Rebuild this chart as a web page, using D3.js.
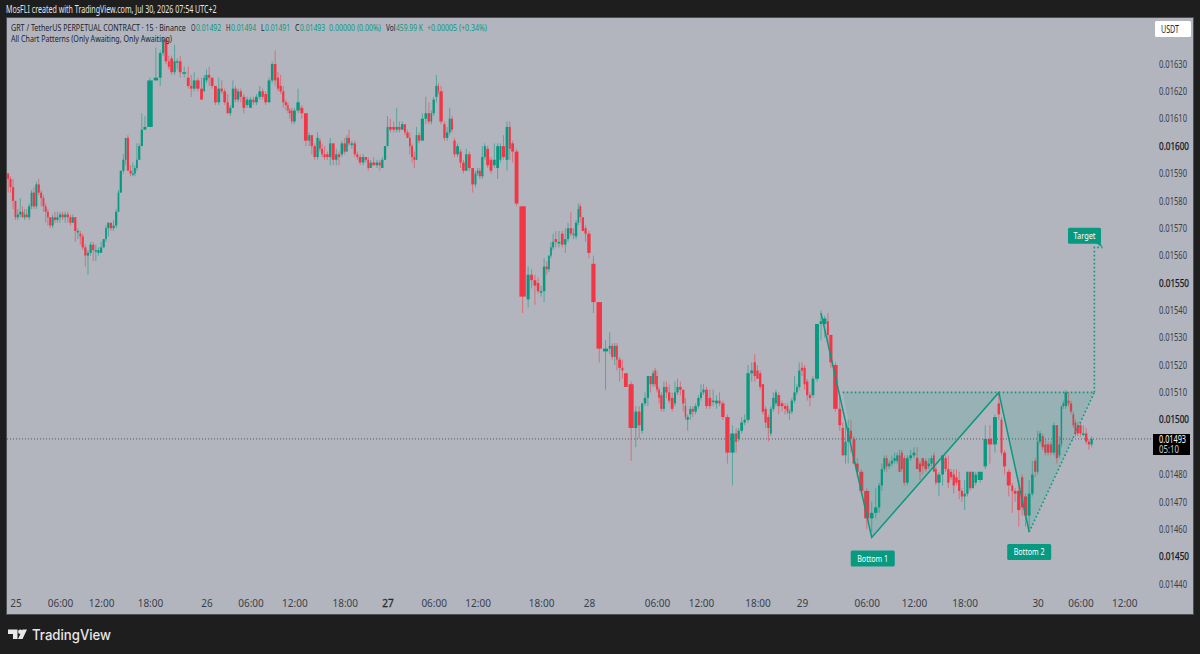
<!DOCTYPE html>
<html>
<head>
<meta charset="utf-8">
<script src="https://cdnjs.cloudflare.com/ajax/libs/d3/7.8.5/d3.min.js"></script>
<style>
  html, body { margin: 0; padding: 0; background: #1e1e1e; }
  svg { display: block; }
  text { font-family: "Liberation Sans Narrow", "Noto Sans", sans-serif; }
</style>
</head>
<body>
<div id="chart"></div>
<script>
/* GRT / USDT 15 min volume candles, prices in 0.00001 USDT */
var opens = [
  1590,1588,1585,1580,1574,1575,1576,1574,1575,1574,
  1578,1583,1578,1586,1583,1581,1578,1576,1574,1571,
  1574,1573,1574,1575,1574,1575,1574,1572,1574,1569,
  1568,1567,1563,1560,1561,1564,1562,1561,1561,1563,
  1566,1570,1572,1570,1571,1576,1583,1591,1595,1603,
  1591,1590,1590,1592,1595,1600,1606,1607,1624,1625,
  1634,1639,1631,1632,1627,1631,1631,1627,1625,1622,
  1621,1624,1621,1620,1624,1626,1625,1622,1616,1621,
  1620,1616,1612,1614,1621,1617,1620,1618,1615,1614,
  1617,1616,1618,1620,1619,1616,1624,1630,1625,1622,
  1620,1616,1615,1613,1613,1609,1613,1614,1612,1602,
  1604,1600,1596,1602,1599,1597,1597,1596,1601,1595,
  1597,1597,1601,1598,1603,1601,1601,1597,1596,1594,
  1596,1595,1592,1594,1593,1594,1592,1595,1600,1607,
  1607,1606,1607,1606,1608,1605,1603,1600,1596,1595,
  1604,1602,1610,1612,1609,1612,1618,1622,1620,1608,
  1603,1605,1610,1602,1597,1598,1594,1591,1597,1592,
  1586,1590,1591,1589,1596,1599,1595,1593,1592,1595,
  1600,1595,1607,1601,1598,1578,1544,1553,1551,1550,
  1547,1547,1556,1555,1560,1563,1566,1565,1568,1564,
  1566,1570,1568,1567,1572,1578,1574,1570,1568,1557,
  1543,1525,1526,1527,1523,1527,1522,1519,1517,1513,
  1497,1503,1496,1506,1508,1516,1513,1518,1516,1511,
  1509,1504,1512,1510,1508,1506,1510,1512,1511,1505,
  1500,1502,1504,1503,1505,1508,1510,1511,1508,1507,
  1506,1507,1506,1501,1488,1495,1493,1496,1499,1500,
  1517,1521,1518,1517,1513,1504,1501,1495,1504,1506,
  1509,1506,1505,1505,1503,1503,1507,1510,1512,1519,
  1519,1514,1509,1509,1515,1535,1535,1536,1531,1520,
  1504,1497,1487,1492,1496,1493,1484,1481,1474,1464,
  1466,1468,1476,1482,1486,1483,1484,1485,1485,1487,
  1488,1486,1477,1486,1487,1486,1484,1486,1485,1483,
  1484,1487,1482,1477,1480,1486,1482,1481,1480,1479,
  1478,1474,1472,1473,1481,1475,1477,1478,1483,1493,
  1491,1506,1500,1488,1481,1476,1474,1474,1479,1472,
  1465,1473,1485,1481,1492,1494,1491,1491,1491,1488,
  1498,1487,1491,1505,1505,1507,1506,1502,1499,1498,
  1498,1495,1495,1492,1491
];
var closes = [
  1588,1585,1580,1574,1575,1576,1574,1575,1574,1578,
  1583,1578,1586,1583,1581,1578,1576,1574,1571,1574,
  1573,1574,1575,1574,1575,1574,1572,1574,1569,1569,
  1567,1563,1560,1561,1564,1562,1562,1562,1563,1566,
  1570,1572,1570,1571,1576,1583,1591,1595,1603,1591,
  1590,1590,1592,1595,1600,1606,1607,1624,1625,1634,
  1639,1631,1629,1627,1631,1631,1627,1627,1622,1621,
  1624,1621,1617,1625,1626,1625,1622,1616,1621,1620,
  1616,1612,1614,1621,1617,1620,1618,1614,1617,1617,
  1616,1618,1620,1618,1616,1624,1630,1624,1621,1620,
  1616,1615,1613,1612,1609,1613,1616,1612,1602,1604,
  1600,1596,1603,1599,1597,1596,1596,1601,1595,1597,
  1596,1601,1598,1603,1601,1601,1597,1596,1594,1596,
  1595,1592,1594,1593,1594,1593,1595,1600,1607,1606,
  1606,1607,1606,1608,1605,1603,1600,1596,1595,1604,
  1602,1610,1612,1609,1612,1617,1622,1620,1609,1603,
  1605,1610,1606,1597,1600,1594,1591,1597,1592,1586,
  1590,1591,1589,1596,1600,1593,1591,1595,1600,1600,
  1596,1607,1599,1598,1579,1545,1553,1551,1549,1547,
  1547,1556,1555,1560,1563,1565,1565,1565,1564,1566,
  1570,1568,1568,1572,1577,1574,1569,1568,1561,1543,
  1526,1526,1527,1523,1527,1522,1519,1518,1512,1497,
  1503,1498,1506,1508,1516,1513,1517,1513,1511,1508,
  1504,1512,1510,1507,1504,1510,1512,1511,1506,1501,
  1501,1504,1503,1505,1508,1510,1511,1505,1505,1507,
  1507,1506,1501,1488,1495,1492,1496,1499,1500,1517,
  1518,1516,1515,1512,1503,1499,1497,1504,1508,1510,
  1505,1505,1504,1503,1503,1507,1510,1512,1518,1518,
  1513,1509,1508,1515,1535,1536,1537,1531,1521,1504,
  1498,1487,1492,1497,1493,1484,1481,1474,1464,1466,
  1468,1476,1482,1486,1483,1484,1485,1486,1487,1481,
  1482,1477,1486,1487,1488,1482,1481,1483,1482,1484,
  1486,1481,1477,1480,1487,1482,1477,1479,1476,1477,
  1474,1472,1473,1481,1475,1481,1480,1481,1493,1491,
  1501,1502,1488,1483,1476,1474,1473,1467,1468,1465,
  1473,1480,1481,1492,1495,1490,1488,1488,1488,1498,
  1486,1491,1505,1506,1510,1506,1503,1498,1495,1495,
  1495,1495,1492,1491,1493
];
var highs = [
  1590,1589,1588,1580,1577,1581,1578,1577,1577,1579,
  1584,1585,1587,1588,1584,1582,1579,1577,1574,1575,
  1576,1576,1576,1576,1576,1576,1575,1575,1574,1570,
  1569,1568,1564,1562,1565,1565,1564,1563,1565,1566,
  1571,1572,1572,1573,1577,1584,1591,1597,1603,1604,
  1593,1594,1593,1601,1601,1612,1611,1625,1636,1635,
  1639,1640,1633,1633,1637,1632,1633,1629,1629,1626,
  1627,1625,1625,1626,1628,1629,1625,1622,1625,1624,
  1621,1619,1615,1624,1622,1621,1621,1619,1618,1618,
  1618,1619,1622,1621,1620,1625,1631,1635,1627,1626,
  1622,1617,1616,1614,1614,1614,1621,1615,1612,1605,
  1604,1601,1605,1603,1601,1600,1598,1603,1601,1599,
  1598,1602,1603,1604,1606,1602,1602,1598,1597,1597,
  1596,1596,1595,1596,1595,1595,1596,1600,1611,1610,
  1609,1614,1609,1609,1608,1606,1605,1601,1598,1607,
  1605,1612,1618,1616,1613,1618,1626,1623,1622,1609,
  1607,1614,1611,1603,1601,1599,1595,1599,1598,1592,
  1591,1592,1592,1600,1601,1600,1596,1601,1601,1601,
  1604,1609,1609,1602,1599,1578,1556,1555,1553,1552,
  1549,1559,1558,1560,1565,1568,1569,1569,1569,1570,
  1572,1576,1570,1573,1579,1579,1574,1571,1569,1560,
  1543,1529,1532,1528,1528,1528,1523,1522,1517,1514,
  1505,1505,1506,1510,1516,1516,1518,1519,1518,1512,
  1510,1514,1514,1513,1510,1514,1515,1514,1511,1508,
  1502,1505,1505,1506,1509,1513,1513,1512,1511,1511,
  1509,1510,1507,1502,1498,1497,1497,1501,1502,1520,
  1521,1524,1520,1518,1513,1505,1502,1505,1510,1511,
  1510,1507,1506,1506,1504,1508,1516,1513,1521,1521,
  1520,1515,1510,1516,1535,1540,1538,1539,1531,1521,
  1509,1499,1499,1500,1500,1494,1486,1482,1475,1470,
  1475,1477,1484,1487,1487,1485,1487,1488,1488,1489,
  1489,1487,1487,1489,1490,1490,1485,1486,1486,1486,
  1487,1488,1483,1481,1487,1487,1487,1482,1482,1482,
  1481,1475,1478,1481,1481,1481,1481,1481,1498,1498,
  1502,1510,1501,1489,1482,1477,1475,1478,1480,1473,
  1478,1485,1486,1496,1496,1495,1493,1492,1492,1499,
  1498,1494,1505,1507,1511,1510,1507,1503,1500,1499,
  1499,1498,1497,1493,1494
];
var lows = [
  1583,1583,1577,1573,1573,1574,1574,1573,1574,1573,
  1577,1577,1577,1582,1578,1576,1572,1571,1570,1570,
  1572,1572,1572,1573,1572,1572,1571,1572,1565,1566,
  1564,1562,1556,1553,1560,1558,1558,1560,1561,1563,
  1565,1567,1569,1569,1570,1576,1583,1590,1593,1591,
  1589,1589,1589,1591,1595,1600,1606,1607,1624,1622,
  1633,1630,1628,1626,1626,1628,1625,1625,1621,1618,
  1620,1620,1617,1620,1623,1622,1621,1615,1615,1619,
  1615,1612,1611,1614,1616,1616,1616,1612,1614,1614,
  1615,1615,1617,1617,1615,1616,1623,1622,1620,1619,
  1614,1613,1612,1610,1608,1608,1612,1610,1600,1600,
  1597,1595,1595,1598,1596,1595,1595,1593,1593,1593,
  1593,1596,1597,1598,1600,1599,1596,1595,1593,1593,
  1594,1591,1592,1593,1592,1591,1592,1595,1600,1605,
  1605,1605,1605,1606,1604,1603,1597,1594,1592,1595,
  1601,1602,1608,1608,1608,1611,1616,1619,1608,1602,
  1602,1604,1605,1596,1596,1592,1590,1591,1591,1583,
  1585,1589,1588,1588,1595,1592,1590,1592,1588,1594,
  1595,1591,1595,1594,1578,1539,1541,1548,1542,1546,
  1545,1543,1553,1554,1559,1562,1563,1563,1563,1561,
  1565,1567,1566,1566,1571,1572,1569,1565,1559,1539,
  1521,1511,1524,1522,1520,1518,1514,1515,1512,1485,
  1490,1493,1495,1505,1505,1510,1512,1512,1510,1506,
  1503,1503,1508,1506,1503,1505,1509,1509,1503,1500,
  1496,1500,1501,1502,1504,1507,1509,1504,1504,1505,
  1504,1505,1500,1484,1476,1488,1492,1495,1498,1499,
  1514,1514,1515,1511,1502,1497,1492,1494,1503,1505,
  1502,1503,1502,1502,1500,1502,1506,1509,1511,1516,
  1511,1507,1505,1508,1514,1529,1530,1528,1519,1503,
  1496,1487,1484,1484,1488,1484,1479,1473,1460,1459,
  1464,1466,1474,1481,1481,1482,1483,1484,1484,1481,
  1481,1476,1476,1485,1486,1482,1478,1480,1481,1482,
  1483,1481,1476,1472,1476,1481,1475,1478,1473,1476,
  1471,1470,1467,1472,1474,1475,1476,1477,1482,1484,
  1488,1500,1487,1480,1472,1466,1470,1461,1465,1461,
  1460,1472,1479,1480,1491,1489,1487,1487,1487,1487,
  1484,1486,1490,1504,1504,1505,1502,1497,1494,1494,
  1494,1494,1491,1489,1490
];
var volumes = [
  2.3,2.4,2.6,2.2,2.5,2.3,2.2,2,2.2,2.6,
  2.2,2.5,2.3,2.5,2.3,2.2,2.2,2.2,2.3,2.5,
  2.3,2.5,2.6,2.6,2.6,2.6,2.6,2.2,2.6,2.6,
  2.2,2.6,2.6,2.6,2.6,2.6,2.6,2.6,2.6,2.6,
  2,2.6,2.6,2.6,2.6,2,2.6,2.5,2,2.6,
  2.6,2,2,2,2.6,2.6,3.5,6.5,5.3,3.3,
  2.4,3.3,2.3,3.3,2.6,2.6,3.3,4.7,3.3,2.6,
  3.3,4,3.3,2,2.6,2.6,3.3,3.3,3.3,2.6,
  3.3,2.6,2.6,2.6,2.6,2.6,2.7,3.3,3.3,3.3,
  2.6,3.3,3.3,2.6,3.3,3.3,3,3,2.6,2.6,
  2.6,2.6,1.5,2,2,3.3,4,3.5,4.5,2.3,
  2.7,3,2.7,2,2.3,2.6,3,2.7,3.3,2.7,
  2.7,3,2.7,1.7,2.3,3.3,2.7,2.3,3.3,2.7,
  2.7,2,2.7,3.3,3.3,2.3,2.7,2.7,2.3,3.3,
  3.3,2.7,2.7,3,2.3,2.7,2,2.3,2.3,2,
  3,3.7,3,3.3,1.7,2.7,2.7,1.3,4,2.7,
  2.7,2.3,2.3,2.7,3.3,2.7,3,2.7,3.3,3.3,
  2.3,2,2.3,2.7,2.3,3.3,3.3,3.3,3.3,2.3,
  3.7,3.3,2.3,3.3,4.5,7.5,3.5,3.3,3.3,3,
  3,3,2.3,2,2,2.3,3,3.3,3.3,2.7,
  2.7,3,2.3,2.7,1.7,2.3,2.7,2.7,4,5,
  6.5,6,2.3,2.7,2.3,2,3.3,2.3,4.5,6,
  3.3,3.3,2.7,3,2.7,2.7,2.3,1.7,2,2,
  2.7,2.3,2.7,2.7,3.3,2.3,2.7,3,2.7,1.7,
  2.7,2.7,2.3,3,2.7,2.3,2.7,3.3,3.3,3.3,
  3.3,2.7,4,5,5,2.3,2.7,3.3,2.7,4,
  3.3,2.7,2.7,2.7,2.7,2.7,2.7,2.3,2.7,2.3,
  3.3,3.3,2.7,2,2,2.7,2.7,2,2.7,2.7,
  2.5,2.7,2.7,3.3,4.7,3.3,4,2.3,3.7,5.3,
  3.3,2.7,2.7,2.7,2.7,3.3,3.3,4.7,6,4,
  4,2.7,2.7,2.3,2.3,2.7,2.7,2.7,2.3,2.3,
  2.3,2.7,3.3,3.3,3.3,3,2.7,2.7,3.3,2.7,
  2.7,2,2,4,3.3,2.7,2.7,2.7,2.7,2.7,
  2.7,2.7,2.7,2.7,2.7,2.7,3,6,4,5.3,
  4.7,3,2.3,3.7,4.7,2.3,3.3,4,2.7,4,
  3.3,3,2.7,2,2.7,2.7,2.7,2.7,2.7,3.3,
  2.7,2.3,1.7,2,3,2.3,2.7,2,2,2.7,
  2.7,3,2.7,2.7,2.7
];

var priceTicks = [1630,1620,1610,1600,1590,1580,1570,1560,1550,1540,1530,1520,1510,1500,1480,1470,1460,1450,1440];
var tickBars = [3,22,38,57,74,89,105,122,138,155,171,190,208,228,245,262,279,298,314,332,353,370,386];
var tickLabels = ["25","06:00","12:00","18:00","26","06:00","12:00","18:00","27","06:00","12:00","18:00","28","06:00","12:00","18:00","29","06:00","12:00","18:00","30","06:00","12:00"];
var lastPrice = 1493;

// double bottom drawing: [bar, price]
var patternBars = [285,299,341,350];
var patternPrices = [1539,1457,1510,1459];
var neckBars = [291,375];
var neckPrice = 1510;
var targetBars = [375,378];
var targetPrices = [1563,1563];

var legendItems = [
  {x: 11, w: 175, t: "GRT / TetherUS PERPETUAL CONTRACT · 15 · Binance", c: "#20232c"},
  {x: 191, w: 4.5, t: "O", c: "#20232c"}, {x: 196, w: 25, t: "0.01492", c: "#089981"},
  {x: 226, w: 4.5, t: "H", c: "#20232c"}, {x: 231, w: 25, t: "0.01494", c: "#089981"},
  {x: 261, w: 3.5, t: "L", c: "#20232c"}, {x: 265, w: 25, t: "0.01491", c: "#089981"},
  {x: 295, w: 4.5, t: "C", c: "#20232c"}, {x: 300, w: 25, t: "0.01493", c: "#089981"},
  {x: 329, w: 52, t: "0.00000 (0.00%)", c: "#089981"},
  {x: 386, w: 9.5, t: "Vol", c: "#20232c"}, {x: 396, w: 27, t: "459.99 K", c: "#089981"},
  {x: 427, w: 60, t: "+0.00005 (+0.34%)", c: "#089981"}
];

var width = 1200, height = 654;
var up = "#089981", down = "#f23645", teal = "#089981", ink = "#20232c";

var svg = d3.select("#chart").append("svg")
    .attr("width", width)
    .attr("height", height);

// frame
svg.append("rect").attr("width", width).attr("height", height).attr("fill", "#1e1e1e");
svg.append("rect")
    .attr("x", 6.5).attr("y", 17.5).attr("width", 1187).attr("height", 597)
    .attr("fill", "#b2b5be").attr("stroke", "#4d4f55");

/* volume candles: width of each bar follows its volume */
var cum = d3.cumsum(volumes);
var total = cum[cum.length - 1];
var xVol = d3.scaleLinear().domain([0, total]).range([7, 1093]);
var centers = cum.map(function(c, i) { return xVol(c - volumes[i] / 2); });
var x = d3.scaleLinear().domain(d3.range(centers.length)).range(centers);
var y = d3.scaleLinear().domain([1440, 1630]).range([584, 64]);
var barW = function(i) { return xVol(volumes[i]) - xVol(0); };

// last price line
svg.append("line")
    .attr("x1", 7).attr("x2", 1153)
    .attr("y1", y(lastPrice)).attr("y2", y(lastPrice))
    .attr("stroke", "#33363f").attr("stroke-opacity", 0.75).attr("stroke-dasharray", "1 2");

// candles
var candle = svg.append("g").selectAll("g")
    .data(d3.range(opens.length))
    .enter().append("g");

candle.append("line")
    .attr("x1", function(i) { return x(i); })
    .attr("x2", function(i) { return x(i); })
    .attr("y1", function(i) { return y(highs[i]); })
    .attr("y2", function(i) { return y(lows[i]); })
    .attr("stroke", function(i) { return closes[i] >= opens[i] ? up : down; })
    .attr("stroke-opacity", 0.55)
    .attr("stroke-width", 1);

candle.append("rect")
    .attr("x", function(i) { return x(i) - barW(i) * 0.42; })
    .attr("width", function(i) { return barW(i) * 0.84; })
    .attr("y", function(i) { return y(Math.max(opens[i], closes[i])); })
    .attr("height", function(i) { return Math.max(1.5, Math.abs(y(opens[i]) - y(closes[i]))); })
    .attr("fill", function(i) { return closes[i] >= opens[i] ? up : down; });

// pattern fill and lines
var pts = patternBars.map(function(b, i) { return [x(b), y(patternPrices[i])]; });
var neckL = [x(neckBars[0]), y(neckPrice)];
var neckR = [x(neckBars[1]), y(neckPrice)];
var line = d3.line();

svg.append("path")
    .attr("d", line([neckL, pts[1], pts[2], pts[3], neckR]) + "Z")
    .attr("fill", teal).attr("fill-opacity", 0.15);

svg.append("path")
    .attr("d", line(pts))
    .attr("fill", "none").attr("stroke", teal).attr("stroke-width", 1.5);

var dotted = [
  [neckL, neckR],
  [pts[3], neckR],
  [neckR, [x(targetBars[0]), y(targetPrices[0])], [x(targetBars[1]), y(targetPrices[1])]]
];
svg.selectAll(".dotted").data(dotted).enter().append("path")
    .attr("class", "dotted")
    .attr("d", line)
    .attr("fill", "none").attr("stroke", teal).attr("stroke-width", 1.6)
    .attr("stroke-dasharray", "1.6 2.4");

// squeeze a text to the width it has in the picture
function fit(sel, w) {
  sel.each(function(d) {
    var node = d3.select(this);
    var tw = typeof w === "function" ? w(d) : w;
    var sx = tw / this.getComputedTextLength();
    var px = +node.attr("x"), py = +node.attr("y");
    node.attr("x", 0).attr("y", 0)
        .attr("transform", "translate(" + px + "," + py + ") scale(" + sx + ",1)");
  });
}

// labels on the pattern
function tag(name, cx, cy, w, tw) {
  svg.append("rect")
      .attr("x", cx - w / 2).attr("y", cy - 8).attr("width", w).attr("height", 16)
      .attr("rx", 1.5).attr("fill", teal);
  svg.append("text")
      .attr("x", cx - tw / 2).attr("y", cy + 3.2)
      .attr("font-size", 9.5)
      .attr("fill", "#ffffff").text(name)
      .call(fit, tw);
}
tag("Bottom 1", x(patternBars[1]) + 1, y(patternPrices[1]) + 21, 44, 31);
tag("Bottom 2", x(patternBars[3]) + 0, y(patternPrices[3]) + 20, 44, 31);
var tipX = x(targetBars[1]), tipY = y(targetPrices[1]);
svg.append("path")
    .attr("d", line([[tipX - 8, tipY - 5], [tipX, tipY], [tipX - 3, tipY - 6]]) + "Z")
    .attr("fill", teal);
tag("Target", tipX - 18, tipY - 11.5, 33, 22);

// price axis
var yAxis = d3.axisRight(y)
    .tickValues(priceTicks)
    .tickSize(0)
    .tickPadding(0)
    .tickFormat(function(d) { return (d / 1e5).toFixed(5); });
var yg = svg.append("g").attr("transform", "translate(1159,0)").call(yAxis);
yg.select(".domain").remove();
yg.selectAll("text")
    .attr("font-family", "'Liberation Sans Narrow', 'Noto Sans', sans-serif")
    .attr("font-size", 10)
    .attr("fill", function(d) { return d % 50 === 0 ? "#131722" : "#3a3e49"; })
    .attr("stroke", function(d) { return d % 50 === 0 ? "#131722" : "none"; })
    .attr("stroke-width", 0.25)
    .attr("textLength", function(d) { return d % 50 === 0 ? 30 : 28; })
    .attr("lengthAdjust", "spacingAndGlyphs");

// time axis
var xAxis = d3.axisBottom(x)
    .tickValues(tickBars)
    .tickSize(0)
    .tickPadding(0)
    .tickFormat(function(d, i) { return tickLabels[i]; });
var xg = svg.append("g").attr("transform", "translate(0,601)").call(xAxis);
xg.select(".domain").remove();
xg.selectAll("text")
    .attr("font-family", "'Liberation Sans Narrow', 'Noto Sans', sans-serif")
    .attr("font-size", 10)
    .attr("fill", "#3a3e49")
    .attr("dy", "0.6em")
    .attr("stroke", function(d, i) { return tickLabels[i] === "27" ? "#131722" : "none"; })
    .attr("stroke-width", 0.3);

// USDT button
svg.append("rect")
    .attr("x", 1155).attr("y", 21).attr("width", 36).attr("height", 16)
    .attr("rx", 1.5).attr("fill", "#ffffff");
svg.append("text").attr("x", 1161).attr("y", 32.5)
    .attr("font-size", 10).attr("fill", ink).text("USDT").call(fit, 18);

// last price tag
svg.append("rect")
    .attr("x", 1153).attr("y", 434).attr("width", 37).attr("height", 21)
    .attr("fill", "#000000");
svg.append("text").attr("x", 1159).attr("y", 443.3)
    .attr("font-size", 10)
    .attr("fill", "#ffffff").text((lastPrice / 1e5).toFixed(5)).call(fit, 27);
svg.append("text").attr("x", 1159).attr("y", 452.8)
    .attr("font-size", 10).attr("fill", "#c9ccd3").text("05:10").call(fit, 20);

// header and legend
svg.append("text").attr("x", 6).attr("y", 13)
    .attr("font-size", 10).attr("fill", "#e4e5e8")
    .text("MosFLI created with TradingView.com, Jul 30, 2026 07:54 UTC+2").call(fit, 211);

svg.selectAll(".legend").data(legendItems).enter().append("text")
    .attr("class", "legend")
    .attr("x", function(d) { return d.x; })
    .attr("y", 30.5)
    .attr("font-size", 9.6)
    .attr("fill", function(d) { return d.c; })
    .text(function(d) { return d.t; })
    .call(fit, function(d) { return d.w; });

svg.append("text").attr("x", 11).attr("y", 41.5)
    .attr("font-size", 9.6).attr("fill", ink)
    .text("All Chart Patterns (Only Awaiting, Only Awaiting)").call(fit, 161);

// TradingView logo
var logo = svg.append("g").attr("fill", "#e8e8ea");
logo.append("path").attr("d", "M8 629.5H17.5V639H13V634H8Z");
logo.append("circle").attr("cx", 20.3).attr("cy", 631.7).attr("r", 2.2);
logo.append("path").attr("d", "M22.5 629.5H27L22.5 639H18Z");
svg.append("text").attr("x", 32).attr("y", 639.5)
    .attr("font-size", 14.5).attr("font-weight", 500)
    .style("font-family", "Inter, sans-serif")
    .attr("fill", "#e8e8ea").text("TradingView").call(fit, 79);
</script>
</body>
</html>
